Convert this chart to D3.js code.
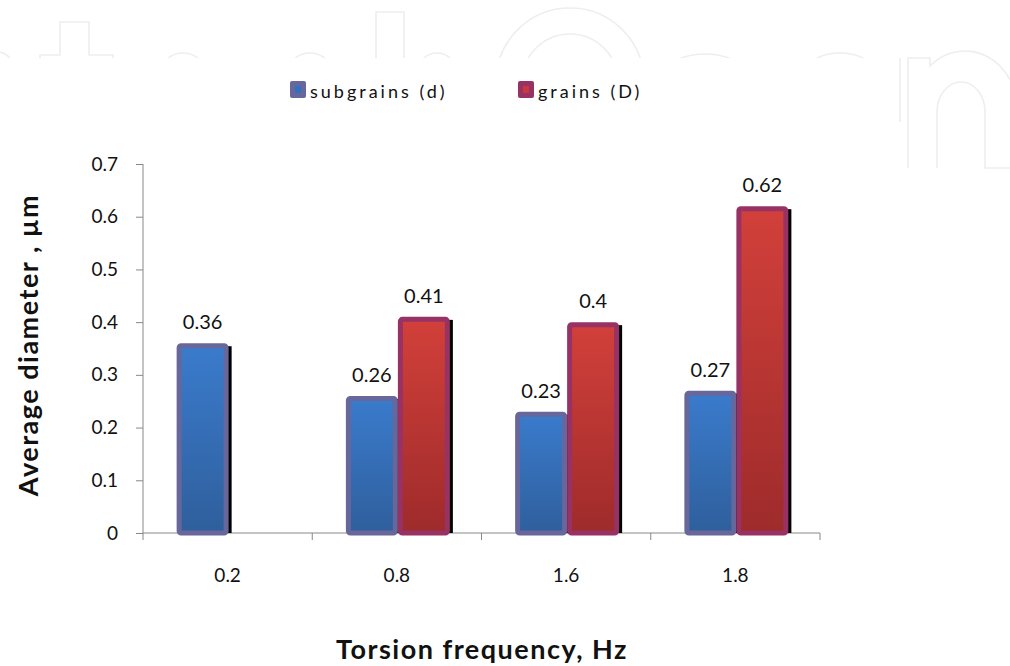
<!DOCTYPE html>
<html>
<head>
<meta charset="utf-8">
<script src="https://cdn.jsdelivr.net/npm/d3@7"></script>
<style>
  body { margin: 0; background: #fff; }
  svg { font-family: Lato, "Open Sans", sans-serif; }
</style>
</head>
<body>
<svg id="chart" width="1010" height="666"></svg>
<script>
// data
var categories = ["0.2", "0.8", "1.6", "1.8"];
var subgrains = [0.36, 0.26, 0.23, 0.27];
var grains = [null, 0.41, 0.4, 0.62];
var yTicks = [0, 0.1, 0.2, 0.3, 0.4, 0.5, 0.6, 0.7];
var seriesNames = ["subgrains (d)", "grains (D)"];

var svg = d3.select("#chart");
var defs = svg.append("defs");

// watermark (faint outlined letters, cut off at the top band)
defs.append("clipPath").attr("id", "wmClip").append("rect").attr("x", 0).attr("y", 0).attr("width", 1010).attr("height", 58);
var wm = svg.append("g").attr("fill", "none").attr("stroke", "#eeeeee").attr("stroke-width", 1.6);
var wmc = wm.append("g").attr("clip-path", "url(#wmClip)");
wmc.append("path").attr("d", "M0,52 A20,20 0 0 1 10,58");
wmc.append("path").attr("d", "M40,58 V55 H60 V22 H89 V55 H113 V58");
wmc.append("ellipse").attr("cx", 183).attr("cy", 82).attr("rx", 26).attr("ry", 29);
wmc.append("ellipse").attr("cx", 310).attr("cy", 82).attr("rx", 26).attr("ry", 29);
wmc.append("path").attr("d", "M376,58 V12 H404 V58");
wmc.append("ellipse").attr("cx", 437).attr("cy", 82).attr("rx", 23).attr("ry", 29);
wmc.append("circle").attr("cx", 570).attr("cy", 82).attr("r", 74);
wmc.append("circle").attr("cx", 570).attr("cy", 82).attr("r", 48);
wmc.append("ellipse").attr("cx", 705).attr("cy", 84).attr("rx", 47).attr("ry", 30);
wmc.append("ellipse").attr("cx", 840).attr("cy", 84).attr("rx", 42).attr("ry", 31);
wm.append("path").attr("d", "M900,58 V122");
wm.append("path").attr("d", "M908,168 V58 H930 V66 A52,58 0 0 1 1010,80");
wm.append("path").attr("d", "M937,168 V112 A24,30 0 0 1 985,112 V168 H1010");

var gb = defs.append("linearGradient").attr("id", "gBlue").attr("x1", 0).attr("y1", 0).attr("x2", 0).attr("y2", 1);
gb.append("stop").attr("offset", "0%").attr("stop-color", "#3a7bcc");
gb.append("stop").attr("offset", "100%").attr("stop-color", "#2f5f9c");
var gr = defs.append("linearGradient").attr("id", "gRed").attr("x1", 0).attr("y1", 0).attr("x2", 0).attr("y2", 1);
gr.append("stop").attr("offset", "0%").attr("stop-color", "#d2403a");
gr.append("stop").attr("offset", "100%").attr("stop-color", "#9e2b2b");

var fills = ["url(#gBlue)", "url(#gRed)"];
var strokes = ["#68679c", "#983264"];
var legendFill = ["#2f6fc4", "#c9383a"];

var plotLeft = 143, plotRight = 820, plotTop = 164, plotBottom = 533;

var x = d3.scaleBand().domain(categories).range([plotLeft, plotRight]);
var y = d3.scaleLinear().domain([0, 0.7]).range([plotBottom, plotTop]);

// axes
var yAxis = svg.append("g")
  .attr("transform", "translate(" + plotLeft + ",0)")
  .call(d3.axisLeft(y).tickValues(yTicks).tickSize(7).tickFormat(function(d){ return d === 0 ? "0" : d3.format(".1f")(d); }));
yAxis.select(".domain").attr("stroke", "#888").attr("d", "M0," + plotTop + "V" + plotBottom);
yAxis.selectAll(".tick line").attr("stroke", "#888");
yAxis.selectAll(".tick text").attr("font-size", "19px").attr("fill", "#111").attr("x", -25).attr("font-family", "Lato, sans-serif");

var xAxis = svg.append("g").attr("transform", "translate(0," + plotBottom + ")");
xAxis.append("line").attr("x1", plotLeft).attr("x2", plotRight).attr("stroke", "#888");
var edges = categories.map(function(c){ return x(c); }).concat([plotRight]);
xAxis.selectAll(".xt").data(edges).enter().append("line")
  .attr("x1", function(d){ return d; }).attr("x2", function(d){ return d; })
  .attr("y1", 0).attr("y2", 7).attr("stroke", "#888");
xAxis.selectAll(".xl").data(categories).enter().append("text")
  .attr("x", function(d){ return x(d) + x.bandwidth() / 2; })
  .attr("y", 49).attr("text-anchor", "middle").attr("font-size", "19px").attr("fill", "#111")
  .text(function(d){ return d; });

// bars
var barW = 52;
var rows = [];
categories.forEach(function(c, i){
  [subgrains[i], grains[i]].forEach(function(v, s){
    if (v != null) rows.push({ cat: c, v: v, s: s });
  });
});
function bx(d){ return x(d.cat) + x.bandwidth() / 2 - (d.s === 0 ? barW - 1 : -1); }

var bars = svg.append("g");
bars.selectAll(".shadow").data(rows).enter().append("rect")
  .attr("x", function(d){ return bx(d) + barW - 2; })
  .attr("y", function(d){ return y(d.v) + 3; })
  .attr("width", 5)
  .attr("height", function(d){ return plotBottom - y(d.v) - 3; })
  .attr("fill", "#000");
bars.selectAll(".bar").data(rows).enter().append("rect")
  .attr("x", function(d){ return bx(d) + 2.5; })
  .attr("y", function(d){ return y(d.v) + 2.5; })
  .attr("width", barW - 5)
  .attr("height", function(d){ return plotBottom - y(d.v) - 2.5; })
  .attr("rx", 2)
  .attr("fill", function(d){ return fills[d.s]; })
  .attr("stroke", function(d){ return strokes[d.s]; })
  .attr("stroke-width", 5);

bars.selectAll(".lbl").data(rows).enter().append("text")
  .attr("x", function(d){ return bx(d) + barW / 2; })
  .attr("y", function(d){ return y(d.v) - 14; })
  .attr("text-anchor", "middle").attr("font-size", "20px").attr("fill", "#111")
  .text(function(d){ return d.v; });

// axis titles
svg.append("text")
  .attr("transform", "translate(38,345) rotate(-90)")
  .attr("text-anchor", "middle").attr("font-size", "27px").attr("font-weight", "bold").attr("fill", "#111")
  .attr("letter-spacing", "1.5px")
  .text("Average diameter , µm");
svg.append("text")
  .attr("x", 482).attr("y", 659)
  .attr("text-anchor", "middle").attr("font-size", "27px").attr("font-weight", "bold").attr("fill", "#111")
  .attr("letter-spacing", "1.5px")
  .text("Torsion frequency, Hz");

// legend
var legX = [290, 518];
var leg = svg.append("g");
seriesNames.forEach(function(n, i){
  var g = leg.append("g").attr("transform", "translate(" + legX[i] + ",81)");
  g.append("rect").attr("x", 0).attr("y", 0).attr("width", 16).attr("height", 17).attr("rx", 2).attr("fill", strokes[i]);
  g.append("rect").attr("x", 5).attr("y", 5).attr("width", 6).attr("height", 7).attr("fill", legendFill[i]);
  g.append("text").attr("x", 20).attr("y", 17).attr("font-size", "18px").attr("letter-spacing", "3px").attr("fill", "#111").text(n);
});
</script>
</body>
</html>
